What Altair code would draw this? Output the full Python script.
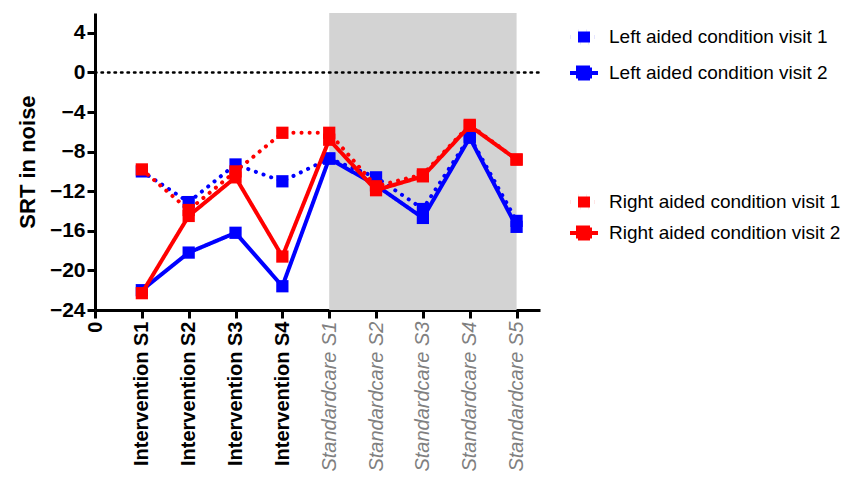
import altair as alt
import pandas as pd

positions = [1, 2, 3, 4, 5, 6, 7, 8, 9]
tick_labels = ["0", "Intervention S1", "Intervention S2", "Intervention S3", "Intervention S4",
               "Standardcare S1", "Standardcare S2", "Standardcare S3", "Standardcare S4", "Standardcare S5"]

left_v1 = [-10.0, -13.1, -9.3, -11.0, -8.7, -10.6, -13.8, -6.5, -15.0]
left_v2 = [-22.0, -18.2, -16.2, -21.6, -8.7, -11.4, -14.7, -6.6, -15.6]
right_v1 = [-9.8, -13.9, -10.0, -6.1, -6.1, -11.5, -10.3, -5.3, -8.8]
right_v2 = [-22.3, -14.5, -10.6, -18.6, -6.8, -11.9, -10.5, -5.4, -8.8]

names_left = ["Left aided condition visit 1", "Left  aided condition visit 2"]
names_right = ["Right aided condition visit 1", "Right  aided condition visit 2"]

def long(names, a, b):
    rows = []
    for n, vals in zip(names, [a, b]):
        for x, v in zip(positions, vals):
            rows.append({"series": n, "x": x, "y": v})
    return pd.DataFrame(rows)

df_left = long(names_left, left_v1, left_v2)
df_right = long(names_right, right_v1, right_v2)

shade = pd.DataFrame({"x": [5], "x2": [9], "y": [6], "y2": [-24]})
zero = pd.DataFrame({"x": [0], "x2": [9.5], "y": [0]})

X = alt.X("x:Q", scale=alt.Scale(domain=[0, 9.5], nice=False, zero=False),
          axis=alt.Axis(values=list(range(10)),
                        labelExpr="[" + ",".join(repr(t) for t in tick_labels) + "][datum.value]",
                        labelAngle=270, labelFont="Liberation Sans", labelFontSize=20,
                        labelFontWeight=alt.condition("datum.value > 4.5", alt.value("normal"), alt.value("bold")),
                        labelFontStyle=alt.condition("datum.value > 4.5", alt.value("italic"), alt.value("normal")),
                        labelColor=alt.condition("datum.value > 4.5", alt.value("#808080"), alt.value("black")),
                        labelPadding=3, labelFlush=False, labelOverlap=False, labelLimit=300,
                        tickSize=8, tickWidth=3, tickColor="black",
                        domainWidth=3, domainColor="black", grid=False, title=None))
Y = alt.Y("y:Q", scale=alt.Scale(domain=[-24, 6], nice=False, zero=False),
          axis=alt.Axis(values=[-24, -20, -16, -12, -8, -4, 0, 4], labelFont="Liberation Sans",
                        labelFontSize=21, labelFontWeight="bold", labelColor="black",
                        labelPadding=2, labelFlush=False,
                        tickSize=8, tickWidth=3, tickColor="black",
                        domainWidth=3, domainColor="black", grid=False,
                        title="SRT in noise", titleFont="Liberation Sans", titleFontSize=22,
                        titleFontWeight="bold", titleColor="black", titlePadding=10))

bg = alt.Chart(shade).mark_rect(color="#d3d3d3").encode(x=X, x2="x2:Q", y=Y, y2="y2:Q")
zl = alt.Chart(zero).mark_rule(color="black", strokeWidth=2.5, strokeDash=[1.5, 5], strokeCap="round").encode(
    x="x:Q", x2="x2:Q", y="y:Q")

sym_path = "M-1.4,0 L1.4,0 M-0.6,-0.55 L0.6,-0.55 L0.6,0.55 L-0.6,0.55 Z"

def group(df, names, color, ly, rp):
    leg = alt.Legend(orient="none", legendX=470, legendY=ly, title=None,
                     labelFont="Liberation Sans", labelFontSize=19, labelColor="black", labelLimit=400,
                     symbolType=sym_path, symbolSize=400, symbolStrokeWidth=4,
                     symbolFillColor=color, rowPadding=rp, labelOffset=13, symbolOffset=7)
    col = alt.Color("series:N", scale=alt.Scale(domain=names, range=[color, color]), legend=leg)
    dash = alt.StrokeDash("series:N", scale=alt.Scale(domain=names, range=[[0.1, 8], [1, 0]]), legend=leg)
    line = alt.Chart(df).mark_line(strokeWidth=4, strokeCap="round").encode(
        x="x:Q", y="y:Q", color=col, strokeDash=dash, detail="series:N")
    pts = alt.Chart(df).mark_point(shape="square", filled=True, size=150, opacity=1).encode(
        x="x:Q", y="y:Q", color=col)
    return alt.layer(line, pts)

chart = alt.layer(
    bg, zl,
    group(df_left, names_left, "#0000ff", 12, 8),
    group(df_right, names_right, "#ff0000", 177, 3),
).resolve_scale(color="independent", strokeDash="independent").properties(
    width=445, height=297,
    autosize=alt.AutoSizeParams(type="none"),
    padding={"left": 87, "top": 5, "right": 310, "bottom": 166},
).configure_view(stroke=None).configure_legend(symbolStrokeColor=None)

chart.save("out.html", embed_options={"renderer": "svg", "actions": False})
